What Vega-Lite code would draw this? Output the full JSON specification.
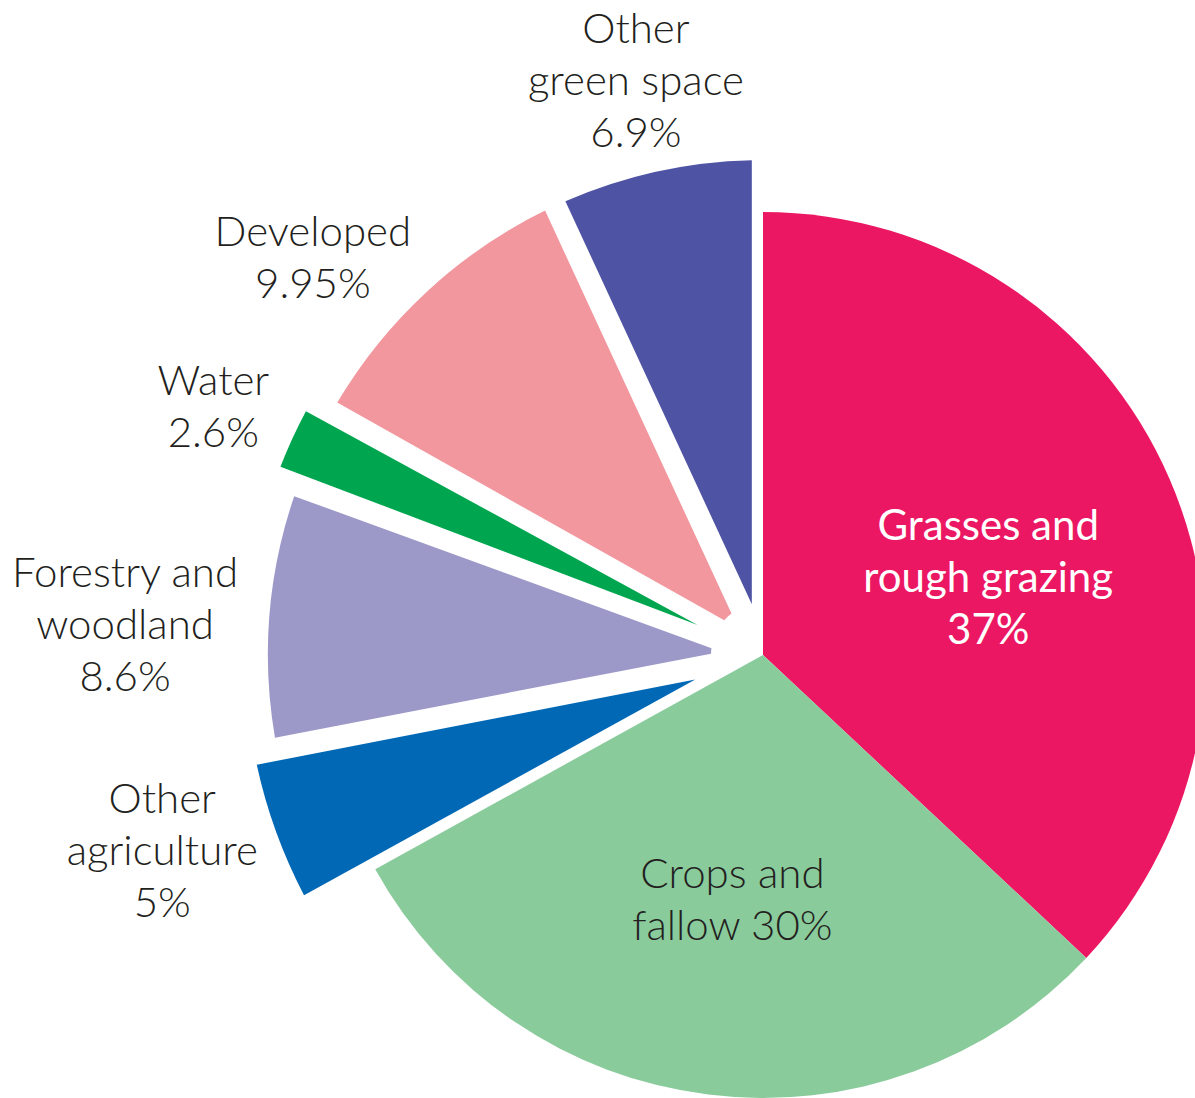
{
  "$schema": "https://vega.github.io/schema/vega-lite/v6.json",
  "width": 864,
  "height": 886,
  "padding": {"left": 331, "top": 212, "right": 0, "bottom": 0},
  "autosize": {"type": "none"},
  "background": "white",
  "config": {
    "view": {"stroke": null},
    "text": {"font": "Lato", "fontWeight": 300, "fontSize": 42, "lineHeight": 52, "lineBreak": "\n", "align": "center", "baseline": "middle", "fill": "#231F20"}
  },
  "data": {
    "values": [
      {"order": 1, "category": "Grasses and rough grazing", "value": 37, "label": "Grasses and\nrough grazing\n37%"},
      {"order": 2, "category": "Crops and fallow", "value": 30, "label": "Crops and\nfallow 30%"},
      {"order": 3, "category": "Other agriculture", "value": 5, "label": "Other\nagriculture\n5%"},
      {"order": 4, "category": "Forestry and woodland", "value": 8.6, "label": "Forestry and\nwoodland\n8.6%"},
      {"order": 5, "category": "Water", "value": 2.6, "label": "Water\n2.6%"},
      {"order": 6, "category": "Developed", "value": 9.95, "label": "Developed\n9.95%"},
      {"order": 7, "category": "Other green space", "value": 6.9, "label": "Other\ngreen space\n6.9%"}
    ]
  },
  "encoding": {
    "theta": {"field": "value", "type": "quantitative", "stack": true},
    "order": {"field": "order", "type": "quantitative"}
  },
  "layer": [
    {
      "mark": {"type": "arc", "outerRadius": 443, "innerRadius": 0},
      "encoding": {
        "color": {
          "field": "category", "type": "nominal", "legend": null,
          "scale": {
            "domain": ["Grasses and rough grazing", "Crops and fallow", "Other agriculture", "Forestry and woodland", "Water", "Developed", "Other green space"],
            "range": ["#EC1763", "#8ACB9C", "#0068B5", "#9C99C9", "#00A64F", "#F1979D", "#4F53A3"]
          }
        },
        "opacity": {
          "condition": {"test": {"field": "category", "oneOf": ["Grasses and rough grazing", "Crops and fallow"]}, "value": 1},
          "value": 0
        }
      }
    },
    {
      "mark": {"type": "arc", "outerRadius": 495, "innerRadius": 52, "padAngle": 0.045},
      "encoding": {
        "color": {"field": "category", "type": "nominal", "legend": null},
        "opacity": {
          "condition": {"test": {"field": "category", "oneOf": ["Forestry and woodland", "Developed", "Other green space"]}, "value": 1},
          "value": 0
        }
      }
    },
    {
      "mark": {"type": "arc", "outerRadius": 518, "innerRadius": 72, "padAngle": 0.045},
      "encoding": {
        "color": {"field": "category", "type": "nominal", "legend": null},
        "opacity": {
          "condition": {"test": {"field": "category", "oneOf": ["Water", "Other agriculture"]}, "value": 1},
          "value": 0
        }
      }
    },
    {
      "mark": {"type": "text", "radius": 591, "dy": -48},
      "encoding": {
        "text": {"field": "label"},
        "opacity": {"condition": {"test": {"field": "category", "oneOf": ["Other green space"]}, "value": 1}, "value": 0}
      }
    },
    {
      "mark": {"type": "text", "radius": 600, "dx": -43, "dy": 19},
      "encoding": {
        "text": {"field": "label"},
        "opacity": {"condition": {"test": {"field": "category", "oneOf": ["Developed"]}, "value": 1}, "value": 0}
      }
    },
    {
      "mark": {"type": "text", "radius": 605, "dy": -20},
      "encoding": {
        "text": {"field": "label"},
        "opacity": {"condition": {"test": {"field": "category", "oneOf": ["Water"]}, "value": 1}, "value": 0}
      }
    },
    {
      "mark": {"type": "text", "radius": 640, "dy": -30},
      "encoding": {
        "text": {"field": "label"},
        "opacity": {"condition": {"test": {"field": "category", "oneOf": ["Forestry and woodland"]}, "value": 1}, "value": 0}
      }
    },
    {
      "mark": {"type": "text", "radius": 639, "dy": -73},
      "encoding": {
        "text": {"field": "label"},
        "opacity": {"condition": {"test": {"field": "category", "oneOf": ["Other agriculture"]}, "value": 1}, "value": 0}
      }
    },
    {
      "mark": {"type": "text", "radius": 240, "dx": 5, "dy": -33, "fontWeight": 400, "fill": "white"},
      "encoding": {
        "text": {"field": "label"},
        "opacity": {"condition": {"test": {"field": "category", "oneOf": ["Grasses and rough grazing"]}, "value": 1}, "value": 0}
      }
    },
    {
      "mark": {"type": "text", "radius": 247, "dy": -25},
      "encoding": {
        "text": {"field": "label"},
        "opacity": {"condition": {"test": {"field": "category", "oneOf": ["Crops and fallow"]}, "value": 1}, "value": 0}
      }
    }
  ]
}
